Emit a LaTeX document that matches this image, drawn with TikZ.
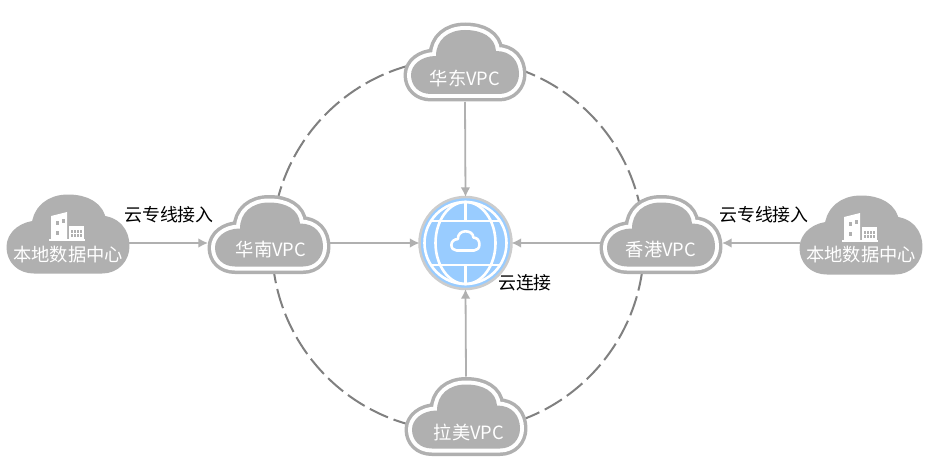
\documentclass[tikz,border=0pt]{standalone}
\usepackage{fontspec}
\setmainfont{Noto Sans CJK SC}
\usetikzlibrary{arrows.meta}
\newlength\px
\setlength\px{0.02cm}
\definecolor{cloudgray}{HTML}{B0B0B0}
\definecolor{ringgray}{HTML}{808080}
\definecolor{globeblue}{HTML}{99CCFF}
\newcommand{\cloudpath}{(-34,32) -- (34,32)
    .. controls (46,32) and (54,23) .. (54,12)
    .. controls (54,-1) and (46,-11) .. (31,-11)
    .. controls (30,-25) and (17,-32) .. (0,-32)
    .. controls (-17,-32) and (-29,-22) .. (-29,-6)
    .. controls (-44,-6) and (-54,3) .. (-54,13)
    .. controls (-54,24) and (-46,32) .. (-34,32) -- cycle}
\tikzset{
    cloudbox/.style={minimum width=122\px,minimum height=80\px,inner sep=0pt,outer sep=0pt},
    cloudtext/.style={text=white,font=\fontsize{10.4}{12}\selectfont,inner sep=0pt},
    plaintext/.style={text=black,font=\fontsize{10.2}{12}\selectfont,inner sep=0pt},
    link/.style={draw=cloudgray,line width=1.8\px,-{Latex[length=5.5pt,width=5.5pt]}},
    vpccloud/.pic={
        \draw[cloudgray,line width=15\px,line join=round] \cloudpath;
        \draw[white,line width=8\px,line join=round] \cloudpath;
        \fill[cloudgray] \cloudpath;
    },
    localcloud/.pic={
        \draw[cloudgray,fill=cloudgray,line width=15\px,line join=round] \cloudpath;
    },
    building/.pic={
        \fill[white] (-17,-24) -- (-1,-28) -- (-1,0) -- (-17,0) -- cycle;
        \fill[white] (1,-14) rectangle (16,0);
        \fill[white] (-19,-1) rectangle (17,0.5);
        \fill[cloudgray] (-12,-19) rectangle (-9,-15);
        \fill[cloudgray] (-12,-9) rectangle (-9,-5);
        \fill[cloudgray] (-6,-21) rectangle (-3,-17);
        \fill[cloudgray] (3,-10) rectangle (14,-3);
        \foreach \gx in {5.5,8.5,11.5} \draw[white,line width=.7\px] (\gx,-10) -- (\gx,-3);
        \draw[white,line width=.7\px] (3,-6.5) -- (14,-6.5);
    },
}
\begin{document}
\begin{tikzpicture}[x=0.02cm,y=-0.02cm]
    \useasboundingbox[fill=white] (0,0) rectangle (932,476);
    % ring behind the clouds
    \draw[ringgray,line width=2\px,dash pattern=on 20\px off 6\px] (458,245) circle (186);
    % clouds
    \node[cloudbox] (huadong) at (465,62) {};
    \node[cloudbox] (huanan) at (269,234.5) {};
    \node[cloudbox] (xianggang) at (661,234.5) {};
    \node[cloudbox] (lamei) at (466,416.5) {};
    \node[cloudbox] (bendil) at (68,234) {};
    \node[cloudbox] (bendir) at (861,235) {};
    \pic at (huadong) {vpccloud};
    \pic at (huanan) {vpccloud};
    \pic at (xianggang) {vpccloud};
    \pic at (lamei) {vpccloud};
    \pic at (bendil) {localcloud};
    \pic at (bendir) {localcloud};
    \pic at (68,240) {building};
    \pic at (861,241) {building};
    % globe
    \node[circle,fill=globeblue,draw=ringgray!40,line width=2.5\px,minimum size=92\px,inner sep=0pt,outer sep=0pt] (yun) at (465.5,243) {};
    \begin{scope}[white,line width=2.6\px]
        \draw (yun.center) circle (41);
        \draw (yun.center) ellipse (30 and 41);
        \draw ([shift={(-35,-22)}]yun.center) -- ([shift={(35,-22)}]yun.center);
        \draw ([shift={(-35,22)}]yun.center) -- ([shift={(35,22)}]yun.center);
        \draw ([shift={(0,-41)}]yun.center) -- ([shift={(0,-22)}]yun.center);
        \draw ([shift={(0,22)}]yun.center) -- ([shift={(0,41)}]yun.center);
        \draw[line join=round,xscale=.26,yscale=.3,shift={(1790,803)}] \cloudpath;
    \end{scope}
    % connectors
    \draw[link] (huadong.south) -- (yun.north);
    \draw[link] (lamei.north) -- (yun.south);
    \draw[link] (huanan.east |- yun.west) -- (yun.west);
    \draw[link] (xianggang.west |- yun.east) -- (yun.east);
    \draw[link] (bendil.east |- yun.west) -- (huanan.west |- yun.west);
    \draw[link] (bendir.west |- yun.east) -- (xianggang.east |- yun.east);
    % labels
    \node[cloudtext] (huadongtext) at ([yshift=-17\px]huadong.center) {华东VPC};
    \node[cloudtext] (huanantext) at ([xshift=2\px,yshift=-15.5\px]huanan.center) {华南VPC};
    \node[cloudtext] (xianggangtext) at ([yshift=-15.5\px]xianggang.center) {香港VPC};
    \node[cloudtext] (lameitext) at ([xshift=3\px,yshift=-16\px]lamei.center) {拉美VPC};
    \node[cloudtext] (bendiltext) at ([yshift=-21\px]bendil.center) {本地数据中心};
    \node[cloudtext] (bendirtext) at ([yshift=-20\px]bendir.center) {本地数据中心};
    \node[plaintext] (zhuanl) at (169,215) {云专线接入};
    \node[plaintext] (zhuanr) at (764,215) {云专线接入};
    \node[plaintext] (yuntext) at (525,283) {云连接};
\end{tikzpicture}
\end{document}
